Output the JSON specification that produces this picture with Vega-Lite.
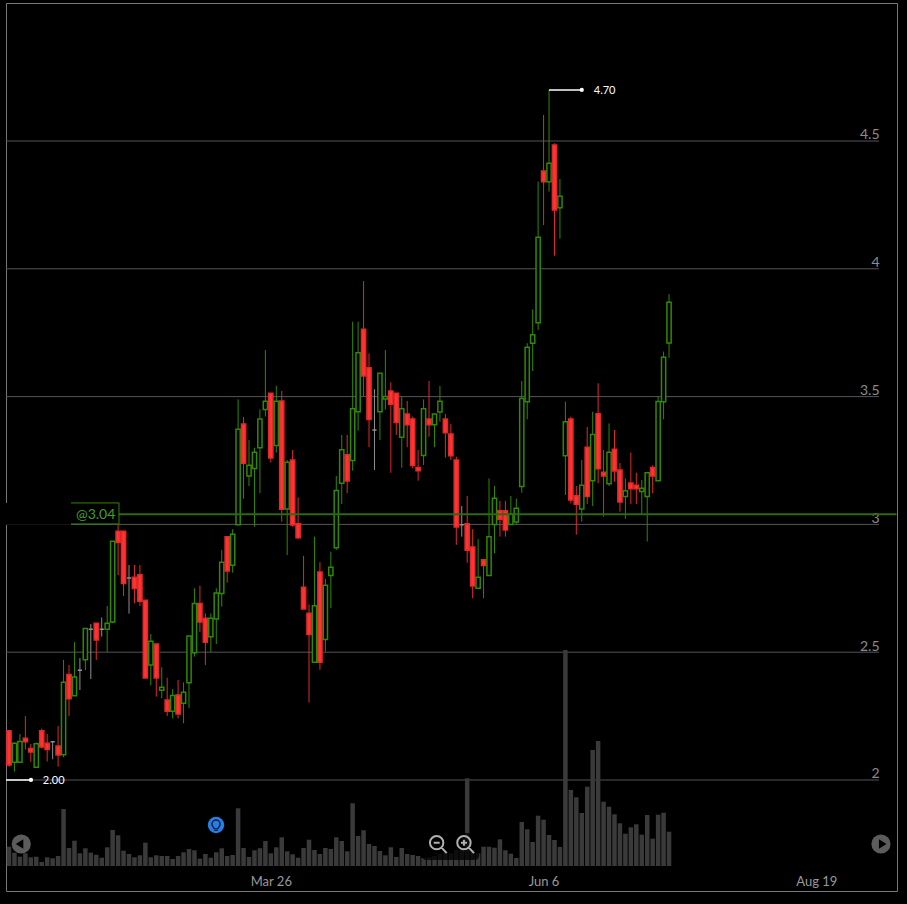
{
"$schema":"https://vega.github.io/schema/vega-lite/v6.json",
"width":891,"height":888,
"autosize":{"type":"none"},
"padding":{"left":6,"top":3,"right":10,"bottom":13},
"background":"#000000",
"config":{"view":{"stroke":"#777777","strokeWidth":1,"fill":"#000000"},"font":"Lato"},
"datasets":{
"bars":[
{"day":0,"o":2.193,"h":2.193,"l":2.052,"c":2.059,"v":193,"dir":"down"},
{"day":1,"o":2.069,"h":2.147,"l":2.033,"c":2.144,"v":133,"dir":"up"},
{"day":2,"o":2.069,"h":2.180,"l":2.069,"c":2.151,"v":93,"dir":"up"},
{"day":3,"o":2.163,"h":2.250,"l":2.120,"c":2.150,"v":127,"dir":"down"},
{"day":4,"o":2.123,"h":2.141,"l":2.071,"c":2.110,"v":87,"dir":"down"},
{"day":5,"o":2.050,"h":2.147,"l":2.050,"c":2.142,"v":93,"dir":"up"},
{"day":6,"o":2.193,"h":2.201,"l":2.123,"c":2.129,"v":40,"dir":"down"},
{"day":7,"o":2.144,"h":2.180,"l":2.072,"c":2.119,"v":87,"dir":"down"},
{"day":8,"o":2.150,"h":2.150,"l":2.081,"c":2.150,"v":77,"dir":"flat"},
{"day":9,"o":2.133,"h":2.211,"l":2.052,"c":2.098,"v":100,"dir":"down"},
{"day":10,"o":2.099,"h":2.470,"l":2.089,"c":2.382,"v":570,"dir":"up"},
{"day":11,"o":2.413,"h":2.450,"l":2.250,"c":2.318,"v":180,"dir":"down"},
{"day":12,"o":2.330,"h":2.539,"l":2.330,"c":2.403,"v":253,"dir":"up"},
{"day":13,"o":2.429,"h":2.477,"l":2.352,"c":2.429,"v":127,"dir":"flat"},
{"day":14,"o":2.470,"h":2.593,"l":2.430,"c":2.593,"v":177,"dir":"up"},
{"day":15,"o":2.590,"h":2.610,"l":2.395,"c":2.590,"v":133,"dir":"flat"},
{"day":16,"o":2.613,"h":2.613,"l":2.470,"c":2.548,"v":113,"dir":"down"},
{"day":17,"o":2.590,"h":2.636,"l":2.561,"c":2.590,"v":83,"dir":"flat"},
{"day":18,"o":2.590,"h":2.681,"l":2.501,"c":2.613,"v":187,"dir":"up"},
{"day":19,"o":2.618,"h":2.934,"l":2.613,"c":2.934,"v":360,"dir":"up"},
{"day":20,"o":2.973,"h":2.998,"l":2.801,"c":2.929,"v":307,"dir":"down"},
{"day":21,"o":2.973,"h":2.973,"l":2.720,"c":2.769,"v":153,"dir":"down"},
{"day":22,"o":2.790,"h":2.841,"l":2.651,"c":2.790,"v":120,"dir":"flat"},
{"day":23,"o":2.793,"h":2.841,"l":2.691,"c":2.749,"v":87,"dir":"down"},
{"day":24,"o":2.803,"h":2.841,"l":2.681,"c":2.699,"v":107,"dir":"down"},
{"day":25,"o":2.703,"h":2.703,"l":2.399,"c":2.399,"v":233,"dir":"down"},
{"day":26,"o":2.450,"h":2.571,"l":2.370,"c":2.543,"v":87,"dir":"up"},
{"day":27,"o":2.532,"h":2.532,"l":2.326,"c":2.399,"v":107,"dir":"down"},
{"day":28,"o":2.351,"h":2.441,"l":2.320,"c":2.363,"v":100,"dir":"up"},
{"day":29,"o":2.313,"h":2.400,"l":2.250,"c":2.269,"v":100,"dir":"down"},
{"day":30,"o":2.269,"h":2.355,"l":2.241,"c":2.331,"v":70,"dir":"up"},
{"day":31,"o":2.333,"h":2.391,"l":2.241,"c":2.258,"v":100,"dir":"down"},
{"day":32,"o":2.300,"h":2.382,"l":2.222,"c":2.343,"v":137,"dir":"up"},
{"day":33,"o":2.380,"h":2.563,"l":2.282,"c":2.563,"v":170,"dir":"up"},
{"day":34,"o":2.498,"h":2.750,"l":2.483,"c":2.691,"v":157,"dir":"up"},
{"day":35,"o":2.691,"h":2.760,"l":2.580,"c":2.618,"v":73,"dir":"down"},
{"day":36,"o":2.633,"h":2.652,"l":2.450,"c":2.539,"v":120,"dir":"down"},
{"day":37,"o":2.560,"h":2.652,"l":2.501,"c":2.633,"v":83,"dir":"up"},
{"day":38,"o":2.630,"h":2.750,"l":2.532,"c":2.732,"v":137,"dir":"up"},
{"day":39,"o":2.730,"h":2.900,"l":2.678,"c":2.852,"v":177,"dir":"up"},
{"day":40,"o":2.952,"h":2.952,"l":2.772,"c":2.818,"v":100,"dir":"down"},
{"day":41,"o":2.840,"h":2.981,"l":2.811,"c":2.961,"v":110,"dir":"up"},
{"day":42,"o":2.999,"h":3.489,"l":2.999,"c":3.372,"v":577,"dir":"up"},
{"day":43,"o":3.393,"h":3.420,"l":3.101,"c":3.239,"v":180,"dir":"down"},
{"day":44,"o":3.189,"h":3.330,"l":3.150,"c":3.231,"v":90,"dir":"up"},
{"day":45,"o":3.219,"h":3.300,"l":2.991,"c":3.282,"v":157,"dir":"up"},
{"day":46,"o":3.300,"h":3.450,"l":3.122,"c":3.412,"v":177,"dir":"up"},
{"day":47,"o":3.450,"h":3.682,"l":3.422,"c":3.482,"v":250,"dir":"up"},
{"day":48,"o":3.513,"h":3.513,"l":3.242,"c":3.260,"v":127,"dir":"down"},
{"day":49,"o":3.309,"h":3.542,"l":3.281,"c":3.482,"v":187,"dir":"up"},
{"day":50,"o":3.483,"h":3.522,"l":3.011,"c":3.059,"v":287,"dir":"down"},
{"day":51,"o":3.060,"h":3.252,"l":2.880,"c":3.243,"v":147,"dir":"up"},
{"day":52,"o":3.252,"h":3.291,"l":2.991,"c":2.998,"v":117,"dir":"down"},
{"day":53,"o":3.003,"h":3.106,"l":2.942,"c":2.948,"v":83,"dir":"down"},
{"day":54,"o":2.754,"h":2.877,"l":2.669,"c":2.669,"v":180,"dir":"down"},
{"day":55,"o":2.652,"h":2.687,"l":2.303,"c":2.569,"v":263,"dir":"down"},
{"day":56,"o":2.461,"h":2.952,"l":2.461,"c":2.682,"v":160,"dir":"up"},
{"day":57,"o":2.814,"h":2.852,"l":2.431,"c":2.461,"v":120,"dir":"down"},
{"day":58,"o":2.550,"h":2.787,"l":2.502,"c":2.762,"v":180,"dir":"up"},
{"day":59,"o":2.800,"h":2.893,"l":2.672,"c":2.832,"v":170,"dir":"up"},
{"day":60,"o":2.909,"h":3.189,"l":2.900,"c":3.133,"v":287,"dir":"up"},
{"day":61,"o":3.161,"h":3.350,"l":3.080,"c":3.292,"v":250,"dir":"up"},
{"day":62,"o":3.272,"h":3.350,"l":3.122,"c":3.170,"v":147,"dir":"down"},
{"day":63,"o":3.250,"h":3.793,"l":3.210,"c":3.452,"v":627,"dir":"up"},
{"day":64,"o":3.441,"h":3.793,"l":3.367,"c":3.672,"v":300,"dir":"up"},
{"day":65,"o":3.763,"h":3.952,"l":3.502,"c":3.581,"v":357,"dir":"down"},
{"day":66,"o":3.613,"h":3.669,"l":3.302,"c":3.410,"v":220,"dir":"down"},
{"day":67,"o":3.369,"h":3.529,"l":3.213,"c":3.369,"v":200,"dir":"flat"},
{"day":68,"o":3.441,"h":3.591,"l":3.330,"c":3.591,"v":150,"dir":"up"},
{"day":69,"o":3.491,"h":3.682,"l":3.450,"c":3.500,"v":107,"dir":"up"},
{"day":70,"o":3.522,"h":3.556,"l":3.202,"c":3.470,"v":187,"dir":"down"},
{"day":71,"o":3.513,"h":3.513,"l":3.350,"c":3.399,"v":90,"dir":"down"},
{"day":72,"o":3.341,"h":3.500,"l":3.222,"c":3.452,"v":180,"dir":"up"},
{"day":73,"o":3.432,"h":3.483,"l":3.302,"c":3.390,"v":120,"dir":"down"},
{"day":74,"o":3.412,"h":3.422,"l":3.219,"c":3.230,"v":110,"dir":"down"},
{"day":75,"o":3.223,"h":3.291,"l":3.171,"c":3.210,"v":100,"dir":"down"},
{"day":76,"o":3.270,"h":3.489,"l":3.232,"c":3.452,"v":80,"dir":"up"},
{"day":77,"o":3.412,"h":3.561,"l":3.343,"c":3.390,"v":87,"dir":"down"},
{"day":78,"o":3.390,"h":3.432,"l":3.302,"c":3.432,"v":100,"dir":"up"},
{"day":79,"o":3.440,"h":3.542,"l":3.402,"c":3.482,"v":120,"dir":"up"},
{"day":80,"o":3.412,"h":3.432,"l":3.261,"c":3.359,"v":133,"dir":"down"},
{"day":81,"o":3.354,"h":3.392,"l":3.252,"c":3.269,"v":127,"dir":"down"},
{"day":82,"o":3.252,"h":3.265,"l":2.920,"c":2.990,"v":160,"dir":"down"},
{"day":83,"o":2.999,"h":3.072,"l":2.952,"c":2.999,"v":167,"dir":"flat"},
{"day":84,"o":3.003,"h":3.111,"l":2.850,"c":2.899,"v":877,"dir":"down"},
{"day":85,"o":2.912,"h":2.981,"l":2.711,"c":2.759,"v":160,"dir":"down"},
{"day":86,"o":2.750,"h":2.942,"l":2.750,"c":2.793,"v":127,"dir":"up"},
{"day":87,"o":2.862,"h":2.862,"l":2.711,"c":2.839,"v":193,"dir":"down"},
{"day":88,"o":2.800,"h":3.180,"l":2.800,"c":2.952,"v":193,"dir":"up"},
{"day":89,"o":3.000,"h":3.150,"l":2.887,"c":3.102,"v":183,"dir":"up"},
{"day":90,"o":3.053,"h":3.092,"l":2.952,"c":3.020,"v":267,"dir":"down"},
{"day":91,"o":3.053,"h":3.092,"l":2.952,"c":2.978,"v":157,"dir":"down"},
{"day":92,"o":3.000,"h":3.111,"l":3.000,"c":3.041,"v":123,"dir":"up"},
{"day":93,"o":3.009,"h":3.101,"l":3.000,"c":3.063,"v":80,"dir":"up"},
{"day":94,"o":3.148,"h":3.561,"l":3.124,"c":3.493,"v":440,"dir":"up"},
{"day":95,"o":3.480,"h":3.709,"l":3.411,"c":3.693,"v":367,"dir":"up"},
{"day":96,"o":3.709,"h":3.841,"l":3.600,"c":3.742,"v":240,"dir":"up"},
{"day":97,"o":3.789,"h":4.341,"l":3.761,"c":4.123,"v":503,"dir":"up"},
{"day":98,"o":4.383,"h":4.602,"l":4.171,"c":4.341,"v":463,"dir":"down"},
{"day":99,"o":4.341,"h":4.700,"l":4.302,"c":4.413,"v":310,"dir":"up"},
{"day":100,"o":4.484,"h":4.491,"l":4.051,"c":4.230,"v":260,"dir":"down"},
{"day":101,"o":4.239,"h":4.351,"l":4.118,"c":4.284,"v":190,"dir":"up"},
{"day":102,"o":3.269,"h":3.480,"l":3.115,"c":3.402,"v":2160,"dir":"up"},
{"day":103,"o":3.412,"h":3.422,"l":3.082,"c":3.095,"v":760,"dir":"down"},
{"day":104,"o":3.112,"h":3.150,"l":2.960,"c":3.079,"v":687,"dir":"down"},
{"day":105,"o":3.060,"h":3.252,"l":3.011,"c":3.153,"v":530,"dir":"up"},
{"day":106,"o":3.302,"h":3.381,"l":3.080,"c":3.109,"v":793,"dir":"down"},
{"day":107,"o":3.171,"h":3.441,"l":3.072,"c":3.352,"v":1160,"dir":"up"},
{"day":108,"o":3.433,"h":3.552,"l":3.161,"c":3.218,"v":1250,"dir":"down"},
{"day":109,"o":3.204,"h":3.291,"l":3.030,"c":3.189,"v":643,"dir":"down"},
{"day":110,"o":3.159,"h":3.395,"l":3.150,"c":3.282,"v":593,"dir":"up"},
{"day":111,"o":3.294,"h":3.369,"l":3.167,"c":3.209,"v":517,"dir":"down"},
{"day":112,"o":3.213,"h":3.240,"l":3.050,"c":3.088,"v":427,"dir":"down"},
{"day":113,"o":3.109,"h":3.180,"l":3.022,"c":3.132,"v":323,"dir":"up"},
{"day":114,"o":3.162,"h":3.281,"l":3.080,"c":3.139,"v":387,"dir":"down"},
{"day":115,"o":3.153,"h":3.202,"l":3.080,"c":3.139,"v":417,"dir":"down"},
{"day":116,"o":3.129,"h":3.174,"l":3.041,"c":3.141,"v":313,"dir":"up"},
{"day":117,"o":3.109,"h":3.202,"l":2.933,"c":3.202,"v":510,"dir":"up"},
{"day":118,"o":3.223,"h":3.231,"l":3.122,"c":3.189,"v":273,"dir":"down"},
{"day":119,"o":3.171,"h":3.500,"l":3.171,"c":3.481,"v":513,"dir":"up"},
{"day":120,"o":3.480,"h":3.676,"l":3.411,"c":3.654,"v":533,"dir":"up"},
{"day":121,"o":3.710,"h":3.901,"l":3.652,"c":3.869,"v":343,"dir":"up"}
],
"levels":[{"p":2,"a":-0.55,"b":159.5},{"p":2.5,"a":-0.55,"b":159.5},{"p":3,"a":-0.55,"b":159.5},{"p":3.5,"a":-0.55,"b":159.5},{"p":4,"a":-0.55,"b":159.5},{"p":4.5,"a":-0.55,"b":159.5}],
"extremes":[{"a":99,"b":105.0,"t":107.2,"p":4.70,"label":"4.70"},{"a":-0.55,"b":4.03,"t":6.2,"p":2.00,"label":"2.00"}]
},
"resolve":{"scale":{"x":"independent","y":"independent","shape":"independent"},"axis":{"x":"independent","y":"independent"}},
"layer":[
{"data":{"name":"levels"},"mark":{"type":"rule","stroke":"#555555","strokeWidth":1},
 "encoding":{
  "x":{"field":"a","type":"quantitative","scale":{"domain":[-0.55,162.79],"nice":false},
   "axis":{"orient":"bottom","values":[48,98,148],"labelExpr":"datum.value==48?'Mar 26':datum.value==98?'Jun 6':'Aug 19'","title":null,"grid":false,"domain":false,"ticks":false,"offset":-16,"labelPadding":0,"labelFont":"Lato","labelFontSize":13,"labelColor":"#999999","labelFlush":false,"labelOverlap":false}},
  "x2":{"field":"b"},
  "y":{"field":"p","type":"quantitative","scale":{"domain":[1.5657,5.0399],"nice":false},
   "axis":{"orient":"right","values":[2,2.5,3,3.5,4,4.5],"format":"~g","title":null,"grid":false,"domain":false,"ticks":false,"offset":-18,"labelPadding":0,"labelOffset":1,"labelAlign":"right","labelBaseline":"bottom","labelFont":"Lato","labelFontSize":14,"labelColor":"#8c8c8c","labelOverlap":false}}
 }},
{"data":{"name":"bars"},"mark":{"type":"bar","size":4.5,"fill":"#3a3a3a"},
 "encoding":{
  "x":{"field":"day","type":"quantitative","scale":{"domain":[-0.55,162.79],"nice":false,"padding":0},"axis":null},
  "y":{"field":"v","type":"quantitative","scale":{"domain":[-250,8630],"nice":false},"axis":null},
  "y2":{"datum":0}
 }},
{"data":{"name":"bars"},"mark":{"type":"rule","strokeWidth":1},
 "encoding":{
  "x":{"field":"day","type":"quantitative","scale":{"domain":[-0.55,162.79],"nice":false},"axis":null},
  "y":{"field":"l","type":"quantitative","scale":{"domain":[1.5657,5.0399],"nice":false},"axis":null},
  "y2":{"field":"h"},
  "stroke":{"field":"dir","type":"nominal","legend":null,"scale":{"domain":["up","down","flat"],"range":["#2f8a00","#e02a2a","#8f8f8f"]}}
 }},
{"data":{"name":"bars"},"mark":{"type":"bar","size":4.2,"strokeWidth":1.5},
 "encoding":{
  "x":{"field":"day","type":"quantitative","scale":{"domain":[-0.55,162.79],"nice":false,"padding":0},"axis":null},
  "y":{"field":"o","type":"quantitative","scale":{"domain":[1.5657,5.0399],"nice":false},"axis":null},
  "y2":{"field":"c"},
  "fill":{"field":"dir","type":"nominal","legend":null,"scale":{"domain":["up","down","flat"],"range":["#000000","#ff3333","#999999"]}},
  "stroke":{"field":"dir","type":"nominal","legend":null,"scale":{"domain":["up","down","flat"],"range":["#2f8a00","#ff3333","#999999"]}}
 }},
{"data":{"values":[{"p":3.04,"a":20.16,"b":162.7}]},"mark":{"type":"rule","stroke":"#2a6a10","strokeWidth":2},
 "encoding":{
  "x":{"field":"a","type":"quantitative","scale":{"domain":[-0.55,162.79],"nice":false},"axis":null},
  "x2":{"field":"b"},
  "y":{"field":"p","type":"quantitative","scale":{"domain":[1.5657,5.0399],"nice":false},"axis":null}
 }},
{"data":{"values":[{"a":-0.7,"b":11.37,"p":3.084,"q":2.9985}]},"mark":{"type":"rect","fill":"#000000"},
 "encoding":{
  "x":{"field":"a","type":"quantitative","scale":{"domain":[-0.55,162.79],"nice":false},"axis":null},
  "x2":{"field":"b"},
  "y":{"field":"p","type":"quantitative","scale":{"domain":[1.5657,5.0399],"nice":false},"axis":null},
  "y2":{"field":"q"}
 }},
{"data":{"values":[{"n":0,"a":11.37,"p":3.084},{"n":1,"a":20.16,"p":3.084},{"n":2,"a":20.16,"p":3.0016},{"n":3,"a":11.37,"p":3.0016}]},"mark":{"type":"line","stroke":"#2f8a00","strokeWidth":1},
 "encoding":{
  "x":{"field":"a","type":"quantitative","scale":{"domain":[-0.55,162.79],"nice":false},"axis":null},
  "y":{"field":"p","type":"quantitative","scale":{"domain":[1.5657,5.0399],"nice":false},"axis":null},
  "order":{"field":"n"}
 }},
{"data":{"values":[{"a":12.28,"p":3.04,"label":"@3.04"}]},"mark":{"type":"text","align":"left","baseline":"middle","dy":1,"font":"Lato","fontSize":14,"fill":"#3fa020"},
 "encoding":{
  "x":{"field":"a","type":"quantitative","scale":{"domain":[-0.55,162.79],"nice":false},"axis":null},
  "y":{"field":"p","type":"quantitative","scale":{"domain":[1.5657,5.0399],"nice":false},"axis":null},
  "text":{"field":"label"}
 }},
{"data":{"name":"extremes"},"mark":{"type":"rule","stroke":"#ffffff","strokeWidth":1.5},
 "encoding":{
  "x":{"field":"a","type":"quantitative","scale":{"domain":[-0.55,162.79],"nice":false},"axis":null},
  "x2":{"field":"b"},
  "y":{"field":"p","type":"quantitative","scale":{"domain":[1.5657,5.0399],"nice":false},"axis":null}
 }},
{"data":{"name":"extremes"},"mark":{"type":"point","filled":true,"fill":"#ffffff","size":18,"opacity":1},
 "encoding":{
  "x":{"field":"b","type":"quantitative","scale":{"domain":[-0.55,162.79],"nice":false},"axis":null},
  "y":{"field":"p","type":"quantitative","scale":{"domain":[1.5657,5.0399],"nice":false},"axis":null}
 }},
{"data":{"name":"extremes"},"mark":{"type":"text","align":"left","baseline":"middle","dy":1,"font":"Lato","fontSize":11,"fill":"#ffffff"},
 "encoding":{
  "x":{"field":"t","type":"quantitative","scale":{"domain":[-0.55,162.79],"nice":false},"axis":null},
  "y":{"field":"p","type":"quantitative","scale":{"domain":[1.5657,5.0399],"nice":false},"axis":null},
  "text":{"field":"label"}
 }},
{"data":{"values":[{"a":75.7,"b":86.2,"p":1.793,"q":1.687}]},"mark":{"type":"rect","fill":"#000000","opacity":0.75,"cornerRadius":4},
 "encoding":{
  "x":{"field":"a","type":"quantitative","scale":{"domain":[-0.55,162.79],"nice":false},"axis":null},
  "x2":{"field":"b"},
  "y":{"field":"p","type":"quantitative","scale":{"domain":[1.5657,5.0399],"nice":false},"axis":null},
  "y2":{"field":"q"}
 }},
{"data":{"values":[{"a":2.25,"p":1.7496,"k":"prev"},{"a":159.85,"p":1.7496,"k":"next"}]},"mark":{"type":"point","filled":true,"size":370,"fill":"#666666","opacity":0.9},
 "encoding":{
  "x":{"field":"a","type":"quantitative","scale":{"domain":[-0.55,162.79],"nice":false},"axis":null},
  "y":{"field":"p","type":"quantitative","scale":{"domain":[1.5657,5.0399],"nice":false},"axis":null}
 }},
{"data":{"values":[{"a":2.1,"p":1.7496,"k":"prev"},{"a":160,"p":1.7496,"k":"next"}]},"mark":{"type":"point","filled":true,"size":90,"fill":"#000000","opacity":1},
 "encoding":{
  "x":{"field":"a","type":"quantitative","scale":{"domain":[-0.55,162.79],"nice":false},"axis":null},
  "y":{"field":"p","type":"quantitative","scale":{"domain":[1.5657,5.0399],"nice":false},"axis":null},
  "shape":{"field":"k","type":"nominal","legend":null,"scale":{"domain":["prev","next"],"range":["M0.6,-1 L-1,0 L0.6,1 Z","M-0.6,-1 L1,0 L-0.6,1 Z"]}}
 }},
{"data":{"values":[{"a":37.95,"p":1.824}]},"mark":{"type":"point","filled":true,"size":270,"fill":"#2a7de1","opacity":1},
 "encoding":{
  "x":{"field":"a","type":"quantitative","scale":{"domain":[-0.55,162.79],"nice":false},"axis":null},
  "y":{"field":"p","type":"quantitative","scale":{"domain":[1.5657,5.0399],"nice":false},"axis":null}
 }},
{"data":{"values":[{"a":37.95,"p":1.824}]},"mark":{"type":"point","filled":false,"size":324,"stroke":"#06224a","strokeWidth":1.4,"opacity":1,"shape":"M-0.45,-0.1 A0.45,0.45 0 1,1 0.45,-0.1 C0.45,0.15 0.25,0.25 0.22,0.4 L-0.22,0.4 C-0.25,0.25 -0.45,0.15 -0.45,-0.1 M-0.2,0.6 L0.2,0.6"},
 "encoding":{
  "x":{"field":"a","type":"quantitative","scale":{"domain":[-0.55,162.79],"nice":false},"axis":null},
  "y":{"field":"p","type":"quantitative","scale":{"domain":[1.5657,5.0399],"nice":false},"axis":null}
 }},
{"data":{"values":[{"a":78.4,"p":1.7548,"k":"out"},{"a":83.4,"p":1.7548,"k":"in"}]},"mark":{"type":"point","filled":false,"size":400,"stroke":"#b0b0b0","strokeWidth":2,"opacity":1},
 "encoding":{
  "x":{"field":"a","type":"quantitative","scale":{"domain":[-0.55,162.79],"nice":false},"axis":null},
  "y":{"field":"p","type":"quantitative","scale":{"domain":[1.5657,5.0399],"nice":false},"axis":null},
  "shape":{"field":"k","type":"nominal","legend":null,"scale":{"domain":["out","in"],"range":["M-0.67,0 A0.67,0.67 0 1,1 0.67,0 A0.67,0.67 0 1,1 -0.67,0 M0.47,0.47 L1,1.05 M-0.3,0 L0.3,0","M-0.67,0 A0.67,0.67 0 1,1 0.67,0 A0.67,0.67 0 1,1 -0.67,0 M0.47,0.47 L1,1.05 M-0.3,0 L0.3,0 M0,-0.3 L0,0.3"]}}
 }}
]
}
